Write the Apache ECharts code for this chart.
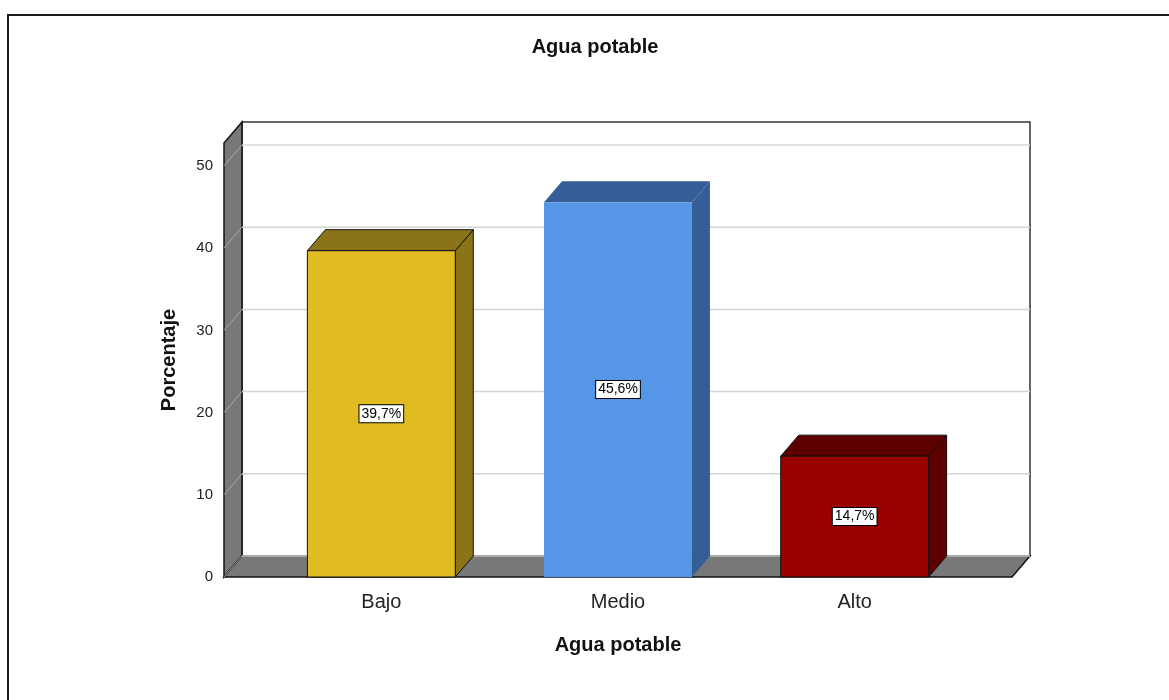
<!DOCTYPE html>
<html>
<head>
<meta charset="utf-8">
<script src="https://cdn.jsdelivr.net/npm/echarts@6/dist/echarts.min.js"></script>
<style>
  html, body { margin: 0; padding: 0; background: #fff; }
  #chart { width: 1169px; height: 700px; }
</style>
</head>
<body>
<div id="chart"></div>
<script>
// Agua potable: percentage of respondents per level
const categories = ['Bajo', 'Medio', 'Alto'];
const percentages = [39.7, 45.6, 14.7];
const yTicks = [0, 10, 20, 30, 40, 50];
const axisTop = 52.8;

const frontColors = ['#E0BC22', '#5596E6', '#990000'];
const shadeColors = ['#8B7417', '#345E95', '#5E0000'];
const edgeColors = ['#111111', null, '#111111'];

const FONT = '"Liberation Sans", Arial, sans-serif';
const DX = 18, DY = 21;   // depth offset of the 3D box
const PAD = 39;           // floor overhang beyond the outer category bands

const chart = echarts.init(document.getElementById('chart'), null, { renderer: 'canvas' });

function frameBounds(params, api) {
  const cs = params.coordSys;
  return {
    L: cs.x - PAD,
    R: cs.x + cs.width + PAD,
    y0: api.coord([0, 0])[1],
    yTop: api.coord([0, axisTop])[1]
  };
}

// walls and floor
function renderWalls(params, api) {
  const b = frameBounds(params, api);
  return {
    type: 'group',
    children: [
      {
        type: 'rect',
        shape: { x: b.L + DX, y: b.yTop - DY, width: b.R - b.L, height: b.y0 - b.yTop },
        style: { fill: '#ffffff', stroke: '#333333', lineWidth: 1.5 }
      },
      {
        type: 'polygon',
        shape: { points: [[b.L, b.y0], [b.L, b.yTop], [b.L + DX, b.yTop - DY], [b.L + DX, b.y0 - DY]] },
        style: { fill: '#787878', stroke: '#111111', lineWidth: 1.5 }
      },
      {
        type: 'polygon',
        shape: { points: [[b.L, b.y0], [b.R, b.y0], [b.R + DX, b.y0 - DY], [b.L + DX, b.y0 - DY]] },
        style: { fill: '#787878', stroke: '#111111', lineWidth: 1.5 }
      }
    ]
  };
}

// gridlines: diagonal across the side wall, horizontal across the back wall
function renderGrid(params, api) {
  const b = frameBounds(params, api);
  const y = api.coord([0, api.value(1)])[1];
  return {
    type: 'group',
    children: [
      {
        type: 'line',
        shape: { x1: b.L, y1: y, x2: b.L + DX, y2: y - DY },
        style: { stroke: '#a8a8a8', lineWidth: 1 }
      },
      {
        type: 'line',
        shape: { x1: b.L + DX, y1: y - DY, x2: b.R + DX, y2: y - DY },
        style: { stroke: '#d4d4d4', lineWidth: 1.5 }
      }
    ]
  };
}

// 3D bars with value labels
function renderBar(params, api) {
  const i = params.dataIndex;
  const v = api.value(1);
  const top = api.coord([api.value(0), v]);
  const base = api.coord([api.value(0), 0]);
  const bw = api.size([1, 0])[0] * 0.625;
  const x0 = top[0] - bw / 2, x1 = top[0] + bw / 2;
  const yv = top[1], yb = base[1];
  const stroke = edgeColors[i];
  const lw = stroke ? 1 : 0;
  return {
    type: 'group',
    children: [
      {
        type: 'polygon',
        shape: { points: [[x1, yv], [x1 + DX, yv - DY], [x1 + DX, yb - DY], [x1, yb]] },
        style: { fill: shadeColors[i], stroke: stroke, lineWidth: lw }
      },
      {
        type: 'polygon',
        shape: { points: [[x0, yv], [x1, yv], [x1 + DX, yv - DY], [x0 + DX, yv - DY]] },
        style: { fill: shadeColors[i], stroke: stroke, lineWidth: lw }
      },
      {
        type: 'rect',
        shape: { x: x0, y: yv, width: bw, height: yb - yv },
        style: { fill: frontColors[i], stroke: stroke, lineWidth: lw }
      },
      {
        type: 'text',
        x: top[0],
        y: (yv + yb) / 2,
        style: {
          text: v.toFixed(1).replace('.', ',') + '%',
          fill: '#000',
          font: '14px ' + FONT,
          align: 'center',
          verticalAlign: 'middle',
          backgroundColor: '#ffffff',
          borderColor: '#000000',
          borderWidth: 1,
          padding: [2, 2, 1, 2]
        }
      }
    ]
  };
}

const option = {
  animation: false,
  backgroundColor: '#ffffff',
  grid: { left: 263, right: 196, top: 143, bottom: 123, containLabel: false },
  graphic: [
    {
      type: 'rect',
      shape: { x: 8, y: 15, width: 1300, height: 800 },
      style: { fill: 'none', stroke: '#1a1a1a', lineWidth: 2 },
      silent: true
    },
    {
      type: 'text',
      x: 595,
      y: 47,
      style: {
        text: 'Agua potable',
        font: 'bold 20px ' + FONT,
        fill: '#111',
        align: 'center',
        verticalAlign: 'middle'
      }
    }
  ],
  xAxis: {
    type: 'category',
    data: categories,
    axisLine: { show: false },
    axisTick: { show: false },
    axisLabel: { fontSize: 20, fontFamily: FONT, color: '#222', margin: 15 },
    name: 'Agua potable',
    nameLocation: 'middle',
    nameGap: 58,
    nameTextStyle: { fontSize: 20, fontWeight: 'bold', fontFamily: FONT, color: '#111' }
  },
  yAxis: {
    type: 'value',
    min: 0,
    max: axisTop,
    interval: 10,
    offset: PAD,
    axisLine: { show: false },
    axisTick: { show: false },
    splitLine: { show: false },
    axisLabel: {
      fontSize: 15,
      fontFamily: FONT,
      color: '#222',
      margin: 11,
      padding: [5, 0, 0, 0],
      formatter: v => (yTicks.indexOf(v) >= 0 ? String(v) : '')
    },
    name: 'Porcentaje',
    nameLocation: 'middle',
    nameGap: 45,
    nameTextStyle: { fontSize: 20, fontWeight: 'bold', fontFamily: FONT, color: '#111' }
  },
  series: [
    {
      type: 'custom',
      z: 1,
      silent: true,
      renderItem: renderWalls,
      data: [[0, 0]],
      encode: { x: 0, y: 1 }
    },
    {
      type: 'custom',
      z: 2,
      silent: true,
      renderItem: renderGrid,
      data: yTicks.map(v => [0, v]),
      encode: { x: 0, y: 1 }
    },
    {
      type: 'custom',
      z: 3,
      renderItem: renderBar,
      data: percentages.map((v, i) => [i, v]),
      encode: { x: 0, y: 1 }
    }
  ]
};

chart.setOption(option);
</script>
</body>
</html>
